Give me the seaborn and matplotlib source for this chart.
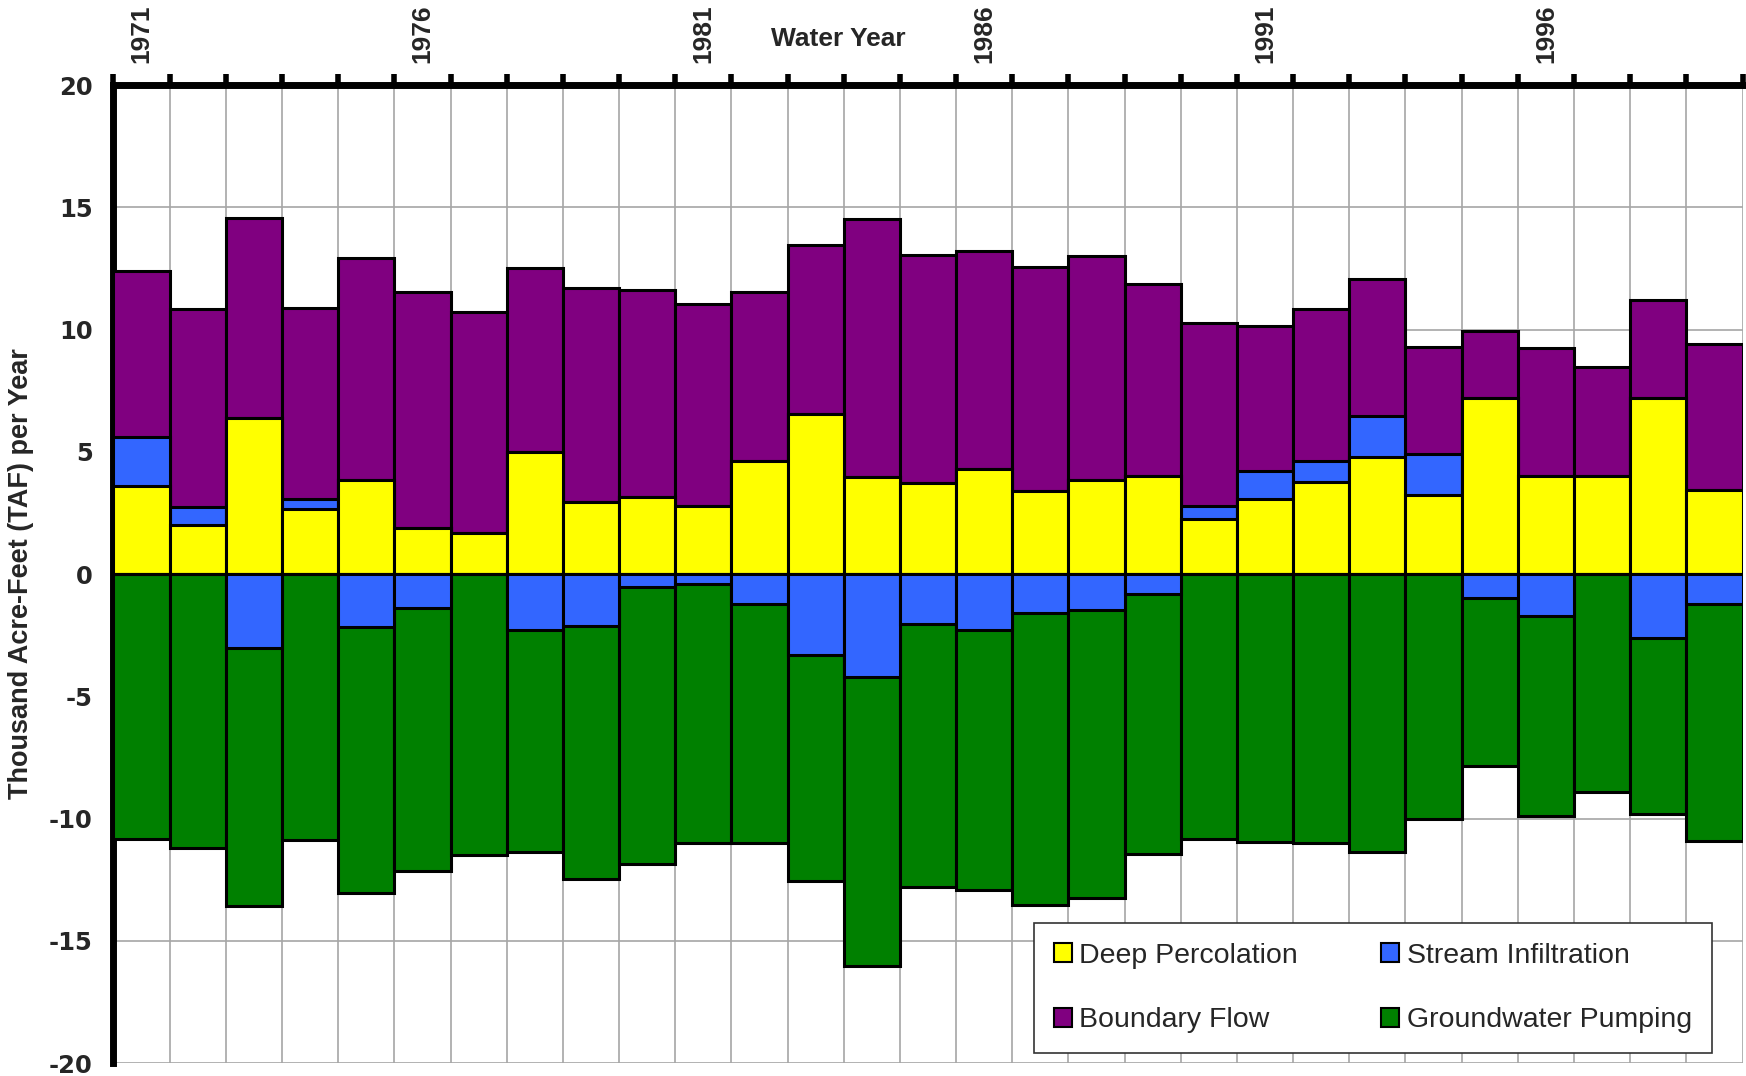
import matplotlib
matplotlib.use("Agg")
import matplotlib.pyplot as plt
import numpy as np
import pandas as pd
import seaborn as sns
from matplotlib.patches import Patch

# ---- data (thousand acre-feet per year) ----
years = list(range(1971, 2000))
deep_percolation = [3.60, 2.00, 6.38, 2.65, 3.85, 1.90, 1.69, 5.00, 2.96, 3.16,
                    2.77, 4.61, 6.54, 3.98, 3.73, 4.28, 3.38, 3.83, 4.00, 2.24,
                    3.06, 3.77, 4.79, 3.24, 7.19, 4.00, 4.00, 7.19, 3.42]
stream_infiltration = [2.00, 0.75, -3.03, 0.43, -2.18, -1.37, 0.00, -2.28, -2.12, -0.51,
                       -0.41, -1.22, -3.30, -4.22, -2.04, -2.28, -1.61, -1.47, -0.82, 0.53,
                       1.16, 0.84, 1.67, 1.65, -0.96, -1.73, 0.00, -2.63, -1.22]
boundary_flow = [6.78, 8.10, 8.20, 7.81, 9.09, 9.62, 9.04, 7.53, 8.72, 8.44,
                 8.26, 6.93, 6.92, 10.52, 9.30, 8.95, 9.18, 9.18, 7.85, 7.51,
                 5.93, 6.22, 5.62, 4.40, 2.75, 5.23, 4.46, 4.02, 5.97]
groundwater_pumping = [-10.85, -11.22, -10.55, -10.87, -10.87, -10.76, -11.50, -9.07, -10.36, -11.36,
                       -10.60, -9.79, -9.24, -11.82, -10.74, -10.65, -11.93, -11.78, -10.64, -10.85,
                       -10.95, -11.01, -11.35, -10.03, -6.89, -8.15, -8.90, -7.19, -9.68]
series_names = ["Deep Percolation", "Stream Infiltration", "Boundary Flow", "Groundwater Pumping"]
colors = {"Deep Percolation": "#FFFF00", "Stream Infiltration": "#3366FF",
          "Boundary Flow": "#800080", "Groundwater Pumping": "#008000"}

sns.set_style("white")
plt.rcParams["font.family"] = ["Liberation Sans", "DejaVu Sans"]
plt.rcParams["axes.unicode_minus"] = False

labels = [str(y) for y in years]
df = pd.DataFrame({"year": labels, "dp": deep_percolation, "si": stream_infiltration,
                   "bf": boundary_flow, "gp": groundwater_pumping})
df["si_pos"] = df["si"].clip(lower=0)
df["si_neg"] = df["si"].clip(upper=0)
df["top_si"] = df["dp"] + df["si_pos"]
df["top_bf"] = df["top_si"] + df["bf"]
df["bot_gp"] = df["si_neg"] + df["gp"]

fig = plt.figure(figsize=(17.46, 10.76), dpi=100)
ax = fig.add_axes([0.065, 0.012, 0.933, 0.909])

layers = [("top_bf", colors["Boundary Flow"]),
          ("top_si", colors["Stream Infiltration"]),
          ("dp", colors["Deep Percolation"]),
          ("bot_gp", colors["Groundwater Pumping"]),
          ("si_neg", colors["Stream Infiltration"])]
for col, c in layers:
    sns.barplot(data=df, x="year", y=col, order=labels, color=c, saturation=1,
                width=1.0, edgecolor="black", linewidth=2.2, errorbar=None, ax=ax, zorder=3)

n = len(years)
ax.set_xlim(-0.5, n - 0.5)
ax.set_ylim(-20, 20)
ax.set_xlabel("")
ax.set_ylabel("Thousand Acre-Feet (TAF) per Year", fontsize=19.5, fontweight="bold", labelpad=11)

# x axis on top
ax.xaxis.tick_top()
major_pos = [i for i, y in enumerate(years) if (y - 1971) % 5 == 0]
ax.set_xticks(major_pos)
ax.set_xticklabels([labels[i] for i in major_pos], rotation=90, fontsize=19, fontweight="bold")
ax.set_xticks(np.arange(-0.5, n, 1.0), minor=True)
ax.tick_params(axis="x", which="major", length=0, pad=16, top=True, bottom=False,
               labeltop=True, labelbottom=False)
ax.tick_params(axis="x", which="minor", length=8, width=4, direction="out", color="black",
               top=True, bottom=False)

ax.set_yticks(range(-20, 21, 5))
ax.set_yticklabels([str(v) for v in range(-20, 21, 5)], fontsize=17.5, fontweight="bold",
                   family="DejaVu Sans")
ax.tick_params(axis="y", which="major", length=9, width=4.5, direction="out", color="black", pad=6)

ax.set_axisbelow(True)
ax.grid(False)
ax.grid(True, which="minor", axis="x", color="#A6A6A6", linewidth=1.2)
ax.grid(True, which="major", axis="y", color="#A6A6A6", linewidth=1.2)

for side in ["right", "bottom"]:
    ax.spines[side].set_visible(False)
for side in ["left", "top"]:
    ax.spines[side].set_visible(True)
    ax.spines[side].set_linewidth(5)
    ax.spines[side].set_color("black")

ax.annotate("Water Year", xy=(12.41, 1), xycoords=("data", "axes fraction"),
            xytext=(0, 33), textcoords="offset points", ha="center", va="center",
            fontsize=19, fontweight="bold")

handles = [Patch(facecolor=colors[s], edgecolor="black", linewidth=1.5, label=s)
           for s in ["Deep Percolation", "Boundary Flow", "Stream Infiltration", "Groundwater Pumping"]]
leg = ax.legend(handles=handles, ncol=2, loc="lower left",
                bbox_to_anchor=(0.565, 0.0102, 0.416, 0.134), mode="expand",
                fontsize=20.5, frameon=True, fancybox=False, framealpha=1,
                edgecolor="#333333", handlelength=0.65, handleheight=0.65,
                handletextpad=0.25, labelspacing=1.35, borderpad=0.7, columnspacing=1.0,
                borderaxespad=0)
leg.get_frame().set_linewidth(1.2)
leg.set_zorder(10)

fig.savefig("out.png", dpi=100)
